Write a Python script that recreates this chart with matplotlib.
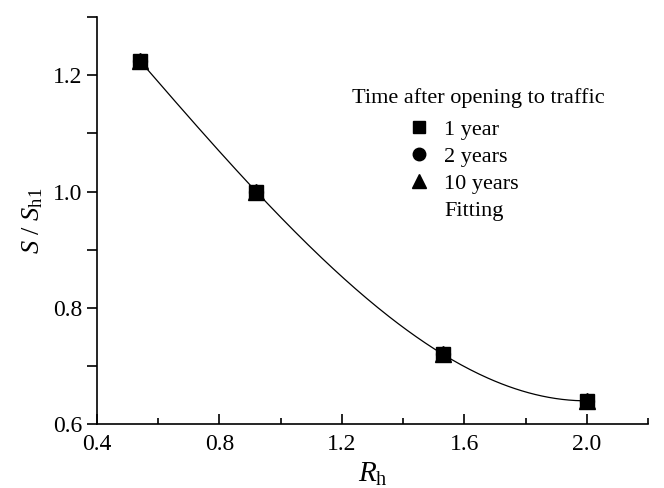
import numpy as np
import matplotlib
matplotlib.use('Agg')
import matplotlib.pyplot as plt
from matplotlib.ticker import MultipleLocator
from matplotlib.lines import Line2D

plt.rcParams['font.family'] = 'Liberation Serif'
plt.rcParams['mathtext.fontset'] = 'custom'
plt.rcParams['mathtext.rm'] = 'Liberation Serif'
plt.rcParams['mathtext.it'] = 'Liberation Serif:italic'

# Settlement ratio vs. Rh for each time after opening
rh = [0.54, 0.92, 1.53, 2.0]
s_1yr = [1.225, 1.0, 0.72, 0.64]
s_2yr = [1.225, 1.0, 0.72, 0.64]
s_10yr = [1.225, 1.0, 0.72, 0.64]

fig = plt.figure(figsize=(6.64, 4.88), dpi=100)
ax = fig.add_axes([0.146, 0.131, 0.83, 0.834])

# Cubic fit through all points
xs = np.concatenate([rh, rh, rh])
ys = np.concatenate([s_1yr, s_2yr, s_10yr])
coef = np.polyfit(xs, ys, 3)
xf = np.linspace(min(rh), max(rh), 200)
ax.plot(xf, np.polyval(coef, xf), color='black', lw=0.9, zorder=1)

ax.plot(rh, s_1yr, 's', color='black', ms=10, zorder=3)
ax.plot(rh, s_2yr, 'o', color='black', ms=10, zorder=3)
ax.plot(rh, s_10yr, '^', color='black', ms=11, zorder=3)

ax.set_xlim(0.4, 2.2)
ax.set_ylim(0.6, 1.3)
ax.xaxis.set_major_locator(MultipleLocator(0.4))
ax.xaxis.set_minor_locator(MultipleLocator(0.2))
ax.yaxis.set_major_locator(MultipleLocator(0.2))
ax.yaxis.set_minor_locator(MultipleLocator(0.1))
ax.xaxis.set_major_formatter(lambda v, p: f'{v:.1f}')
ax.yaxis.set_major_formatter(lambda v, p: f'{v:.1f}')

for side in ['top', 'right']:
    ax.spines[side].set_visible(False)
for side in ['left', 'bottom']:
    ax.spines[side].set_linewidth(1.2)

ax.tick_params(axis='x', which='major', direction='in', length=7, width=1.2, labelsize=17, pad=7)
ax.tick_params(axis='x', which='minor', direction='in', length=4, width=1.2)
ax.tick_params(axis='y', which='both', direction='out', length=7, width=1.2, labelsize=17)

ax.set_xlabel(r'$R_{\mathrm{h}}$', fontsize=21, labelpad=4)
ax.set_ylabel(r'$S$ / $S_{\mathrm{h1}}$', fontsize=19, labelpad=6)

# legend: title centred above, entries in a block slightly to the left
fig.text(0.72, 0.799, 'Time after opening to traffic', fontsize=16,
         ha='center', va='center')
handles = [
    Line2D([], [], marker='s', color='black', ls='none', ms=8),
    Line2D([], [], marker='o', color='black', ls='none', ms=9),
    Line2D([], [], marker='^', color='black', ls='none', ms=10),
    Line2D([], [], color='none'),
]
labels = ['1 year', '2 years', '10 years', 'Fitting']
fig.legend(handles, labels, loc='upper left', bbox_to_anchor=(0.614, 0.756),
           frameon=False, fontsize=16, handlelength=1.0, borderpad=0,
           borderaxespad=0, handletextpad=0.65, labelspacing=0.3)

fig.savefig('out.png', dpi=100)
